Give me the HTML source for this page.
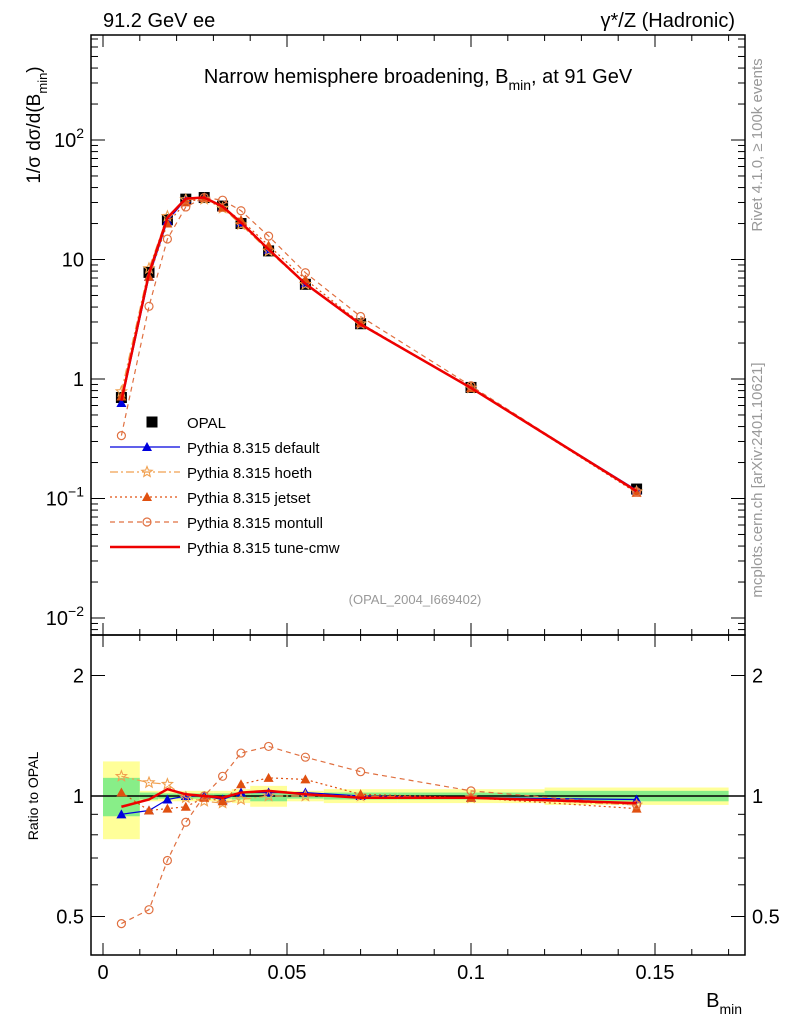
<!DOCTYPE html>
<html><head><meta charset="utf-8">
<style>
body{margin:0;background:#fff;}
svg{font-family:"Liberation Sans","DejaVu Sans",sans-serif;}
</style></head>
<body>
<svg id="chart" width="786" height="1024" viewBox="0 0 786 1024">
<g id="bands"></g>
<g id="opalg"></g>
<g id="marks"></g>
<g id="axes"></g>
<text x="103" y="27" font-size="20">91.2 GeV ee</text>
<text x="735" y="27" font-size="20" text-anchor="end">γ*/Z (Hadronic)</text>
<text x="418" y="83" font-size="20" text-anchor="middle">Narrow hemisphere broadening, B<tspan font-size="14" dy="7">min</tspan><tspan dy="-7">, at 91 GeV</tspan></text>
<text x="415" y="604" font-size="13" fill="#999" text-anchor="middle">(OPAL_2004_I669402)</text>
<text transform="translate(40,125) rotate(-90)" font-size="19" text-anchor="middle">1/σ   dσ/d(B<tspan font-size="13" dy="7">min</tspan><tspan dy="-7">)</tspan></text>
<text transform="translate(38,796) rotate(-90)" font-size="14" text-anchor="middle">Ratio to OPAL</text>
<text x="742" y="1007" font-size="20" text-anchor="end">B<tspan font-size="14" dy="7">min</tspan></text>
<text transform="translate(762,145) rotate(-90)" font-size="15" fill="#999" text-anchor="middle">Rivet 4.1.0, ≥ 100k events</text>
<text transform="translate(762,480) rotate(-90)" font-size="15" fill="#999" text-anchor="middle">mcplots.cern.ch [arXiv:2401.10621]</text>
<g id="legend"></g>
</svg>
<script>
const NS="http://www.w3.org/2000/svg";
const xCenters=[0.005,0.0125,0.0175,0.0225,0.0275,0.0325,0.0375,0.045,0.055,0.07,0.1,0.145];
const binEdges=[0,0.01,0.015,0.02,0.025,0.03,0.035,0.04,0.05,0.06,0.08,0.12,0.17];
const opal=[0.7,7.8,21.5,32,33,28,20,11.8,6.2,2.9,0.85,0.12];
const rDefault=[0.90,0.92,0.98,1.0,1.0,0.98,1.02,1.02,1.02,1.0,0.99,0.98];
const rHoeth=[1.12,1.08,1.07,0.99,0.97,0.96,0.98,1.0,1.0,1.0,0.99,0.95];
const rJetset=[1.02,0.92,0.93,0.94,0.99,0.97,1.07,1.11,1.10,1.01,0.99,0.93];
const rMontull=[0.48,0.52,0.69,0.86,1.00,1.12,1.28,1.33,1.25,1.15,1.03,0.95];
const rCmw=[0.94,0.98,1.04,1.01,1.00,0.99,1.02,1.03,1.01,0.99,0.99,0.96];
const yellowHalf=[0.22,0.03,0.03,0.03,0.03,0.03,0.04,0.06,0.03,0.04,0.04,0.05];
const greenHalf=[0.11,0.02,0.015,0.015,0.015,0.015,0.02,0.03,0.015,0.02,0.02,0.03];
const xTicks=[0,0.05,0.1,0.15];
const xTickLabels=["0","0.05","0.1","0.15"];

const L=91,R=745,T=35,M=635,B=955;
const X=v=>103+v*3680;
const Y=v=>379-Math.log10(v)*119.5;
const YR=v=>796-Math.log2(v)*120.5;
function el(tag,attrs,parent){const e=document.createElementNS(NS,tag);for(const k in attrs)e.setAttribute(k,attrs[k]);parent.appendChild(e);return e;}
const bands=document.getElementById('bands'),marks=document.getElementById('marks'),axes=document.getElementById('axes'),leg=document.getElementById('legend'),opalg=document.getElementById('opalg');

for(let i=0;i<xCenters.length;i++){
  const x0=X(binEdges[i]),x1=X(binEdges[i+1]);
  let r=el('rect',{x:x0,y:YR(1+yellowHalf[i]),width:x1-x0,height:YR(1-yellowHalf[i])-YR(1+yellowHalf[i]),fill:'#ffff99'},bands);
  
  
  let g=el('rect',{x:x0,y:YR(1+greenHalf[i]),width:x1-x0,height:YR(1-greenHalf[i])-YR(1+greenHalf[i]),fill:'#88ee88'},bands);
  
  
}
let one=el('line',{x1:L,x2:R,y1:YR(1),y2:YR(1),stroke:'#000','stroke-width':1.5},bands);



function marker(type,x,y,color,parent){
  let m;
  if(type==='square')m=el('rect',{x:x-5.5,y:y-5.5,width:11,height:11,fill:'#000'},parent);
  else if(type==='tri')m=el('path',{d:`M${x},${y-5}L${x+5},${y+4}L${x-5},${y+4}Z`,fill:color},parent);
  else if(type==='circle')m=el('circle',{cx:x,cy:y,r:4,fill:'none',stroke:color,'stroke-width':1.2},parent);
  else if(type==='star'){let p='';for(let k=0;k<10;k++){const a=-Math.PI/2+k*Math.PI/5,rr=k%2?2.4:5.5;p+=(k?'L':'M')+(x+rr*Math.cos(a)).toFixed(1)+','+(y+rr*Math.sin(a)).toFixed(1);}m=el('path',{d:p+'Z',fill:'none',stroke:color,'stroke-width':1.1},parent);}
  return m;
}
const series=[
 {name:'Pythia 8.315 default',r:rDefault,color:'#0000dd',dash:'',marker:'tri',w:1.2},
 {name:'Pythia 8.315 hoeth',r:rHoeth,color:'#f0a050',dash:'8,3,2,3',marker:'star',w:1.2},
 {name:'Pythia 8.315 jetset',r:rJetset,color:'#e05010',dash:'2,3',marker:'tri',w:1.2},
 {name:'Pythia 8.315 montull',r:rMontull,color:'#e07040',dash:'5,4',marker:'circle',w:1.2},
 {name:'Pythia 8.315 tune-cmw',r:rCmw,color:'#ee0000',dash:'',marker:null,w:2.5}
];
xCenters.forEach((x,i)=>{
  let m=marker('square',X(x),Y(opal[i]),'#000',opalg);
  
  
});
series.forEach(s=>{
  const g=el('g',{},marks);
  
  
  let pm='',pr='';
  xCenters.forEach((x,i)=>{pm+=(i?'L':'M')+X(x)+','+Y(opal[i]*s.r[i]);pr+=(i?'L':'M')+X(x)+','+YR(s.r[i]);});
  const a={fill:'none',stroke:s.color,'stroke-width':s.w};if(s.dash)a['stroke-dasharray']=s.dash;
  let l1=el('path',Object.assign({d:pm},a),g);
  
  
  let l2=el('path',Object.assign({d:pr},a),g);
  
  
  if(s.marker)xCenters.forEach((x,i)=>{
    let m1=marker(s.marker,X(x),Y(opal[i]*s.r[i]),s.color,g);
    
    
    let m2=marker(s.marker,X(x),YR(s.r[i]),s.color,g);
    
    
  });
});

[[T,M],[M,B]].forEach(([a,b])=>{let f=el('rect',{x:L,y:a,width:R-L,height:b-a,fill:'none',stroke:'#000','stroke-width':1.5},axes);

});
for(let v=0;v<=0.17;v+=0.01){const major=Math.abs(v*20-Math.round(v*20))<1e-6;const len=major?12:6;
 [[M,M-len],[M,M+len],[B,B-len],[T,T+len]].forEach(([y1,y2])=>el('line',{x1:X(v),x2:X(v),y1,y2,stroke:'#000'},axes));}
xTicks.forEach((v,i)=>{let t=el('text',{x:X(v),y:B+24,'font-size':20,'text-anchor':'middle'},axes);t.textContent=xTickLabels[i];

});
for(let d=-3;d<=2;d++)for(let k=1;k<10;k++){const v=k*Math.pow(10,d);const y=Y(v);if(y<T||y>M)continue;const len=k==1?14:7;
 el('line',{x1:L,x2:L+len,y1:y,y2:y,stroke:'#000'},axes);el('line',{x1:R,x2:R-len,y1:y,y2:y,stroke:'#000'},axes);}
const yLab=[[100,'10','2'],[10,'10',''],[1,'1',''],[0.1,'10','−1'],[0.01,'10','−2']];
yLab.forEach(([v,b,e])=>{let t=el('text',{x:84,y:Y(v)+7,'font-size':20,'text-anchor':'end'},axes);
 if(v===10)t.textContent='10';else if(v===1)t.textContent='1';else{t.textContent=b;const ts=el('tspan',{'font-size':14,dy:-9},t);ts.textContent=e;}
 
 });
[0.5,0.6,0.7,0.8,0.9,1,2].forEach(v=>{const y=YR(v);const len=(v===0.5||v===1||v===2)?14:7;
 el('line',{x1:L,x2:L+len,y1:y,y2:y,stroke:'#000'},axes);el('line',{x1:R,x2:R-len,y1:y,y2:y,stroke:'#000'},axes);});
[[0.5,'0.5'],[1,'1'],[2,'2']].forEach(([v,s])=>{[[84,'end'],[752,'start']].forEach(([x,a])=>{let t=el('text',{x,y:YR(v)+7,'font-size':20,'text-anchor':a},axes);t.textContent=s;
 
 });});

const ly0=422,ldy=25;
let items=[{name:'OPAL',opal:true}].concat(series);
items.forEach((s,i)=>{const y=ly0+i*ldy;const g=el('g',{},leg);
 
 
 if(s.opal)marker('square',152,y,'#000',g);
 else{const a={x1:110,x2:180,y1:y,y2:y,stroke:s.color,'stroke-width':s.w};if(s.dash)a['stroke-dasharray']=s.dash;el('line',a,g);if(s.marker)marker(s.marker,147,y,s.color,g);}
 const t=el('text',{x:187,y:y+6,'font-size':15},g);t.textContent=s.opal?'OPAL':s.name;});
</script>
</body></html>
